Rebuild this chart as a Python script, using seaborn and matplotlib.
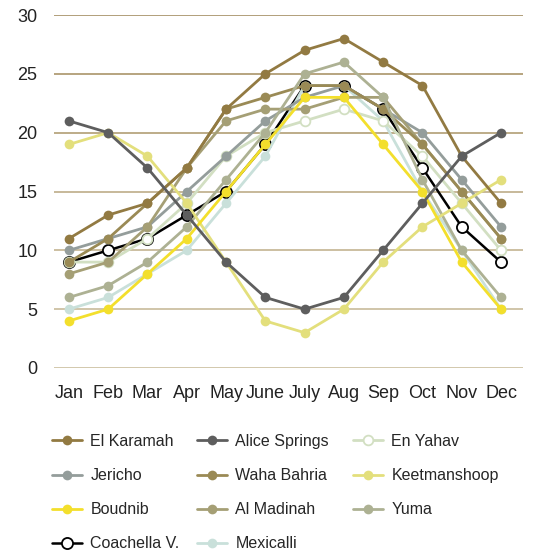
import matplotlib
matplotlib.use('Agg')
import matplotlib.pyplot as plt
import seaborn as sns

sns.set_style('white')
plt.rcParams['font.family'] = ['Liberation Sans', 'DejaVu Sans']

months = ['Jan', 'Feb', 'Mar', 'Apr', 'May', 'June', 'July', 'Aug', 'Sep', 'Oct', 'Nov', 'Dec']

el_karamah    = [11, 13, 14, 17, 22, 25, 27, 28, 26, 24, 18, 14]
alice_springs = [21, 20, 17, 13, 9, 6, 5, 6, 10, 14, 18, 20]
en_yahav      = [9, 9, 11, 14, 18, 20, 21, 22, 21, 18, 14, 10]
jericho       = [10, 11, 12, 15, 18, 21, 23, 24, 22, 20, 16, 12]
waha_bahria   = [9, 11, 14, 17, 22, 23, 24, 24, 22, 19, 15, 11]
keetmanshoop  = [19, 20, 18, 14, 9, 4, 3, 5, 9, 12, 14, 16]
boudnib       = [4, 5, 8, 11, 15, 19, 23, 23, 19, 15, 9, 5]
al_madinah    = [8, 9, 12, 17, 21, 22, 22, 23, 23, 19, 15, 11]
yuma          = [6, 7, 9, 12, 16, 20, 25, 26, 23, 16, 10, 6]
coachella     = [9, 10, 11, 13, 15, 19, 24, 24, 22, 17, 12, 9]
mexicalli     = [5, 6, 8, 10, 14, 18, 24, 24, 21, 15, 10, 5]

series_names = ['El Karamah', 'Alice Springs', 'En Yahav', 'Jericho', 'Waha Bahria',
                'Keetmanshoop', 'Boudnib', 'Al Madinah', 'Yuma', 'Coachella V.', 'Mexicalli']
series_values = [el_karamah, alice_springs, en_yahav, jericho, waha_bahria,
                 keetmanshoop, boudnib, al_madinah, yuma, coachella, mexicalli]
colors = {
    'El Karamah': '#927a42', 'Alice Springs': '#5e5e5e', 'En Yahav': '#d2dfc2',
    'Jericho': '#949d9b', 'Waha Bahria': '#9a8a55', 'Keetmanshoop': '#e3df7c',
    'Boudnib': '#f3df2c', 'Al Madinah': '#a59f75', 'Yuma': '#adb193',
    'Coachella V.': '#000000', 'Mexicalli': '#c9e0da',
}
zorders = {
    'Coachella V.': 2.0, 'Mexicalli': 2.1, 'En Yahav': 2.2, 'Jericho': 2.3,
    'Al Madinah': 2.4, 'Waha Bahria': 2.5, 'Yuma': 2.6, 'Keetmanshoop': 2.7,
    'Boudnib': 2.8, 'El Karamah': 2.9, 'Alice Springs': 3.0,
}

W, H = 535, 556
fig = plt.figure(figsize=(W / 100, H / 100), dpi=100)
ax = fig.add_axes([54 / W, 1 - 368 / H, (523 - 54) / W, (368 - 15) / H])

handles = {}
for name, vals in zip(series_names, series_values):
    c = colors[name]
    kw = dict(x=months, y=vals, ax=ax, color=c, marker='o', zorder=zorders[name])
    if name == 'Coachella V.':
        sns.lineplot(**kw, linewidth=1.8, markersize=8.0, markerfacecolor='white',
                     markeredgecolor='black', markeredgewidth=1.3)
    elif name == 'En Yahav':
        sns.lineplot(**kw, linewidth=2.0, markersize=7.0, markerfacecolor='white',
                     markeredgecolor=c, markeredgewidth=1.3)
    else:
        sns.lineplot(**kw, linewidth=2.0, markersize=7.0, markeredgewidth=0)
    line = ax.lines[-1]
    line.set_clip_on(False)
    handles[name] = line

ax.set_xlim(-0.38, 11.56)
ax.set_ylim(0, 30)
ax.set_yticks([0, 5, 10, 15, 20, 25, 30])
for s in ax.spines.values():
    s.set_visible(False)
ax.set_xlabel('')
ax.set_ylabel('')
ax.tick_params(axis='both', length=0, labelsize=13, colors='#222222')
ax.tick_params(axis='y', pad=12)
ax.tick_params(axis='x', pad=12)
ax.yaxis.grid(True)
ax.xaxis.grid(False)
grid_colors = ['#c6b996', '#c3b592', '#bfae88', '#b8a67e', '#ab9668', '#a38c5d', '#9c8556']
for gl, gc in zip(ax.get_ygridlines(), grid_colors):
    gl.set_color(gc)
    gl.set_linewidth(1.1)
    gl.set_zorder(0.5)

columns = [
    ['El Karamah', 'Jericho', 'Boudnib', 'Coachella V.'],
    ['Alice Springs', 'Waha Bahria', 'Al Madinah', 'Mexicalli'],
    ['En Yahav', 'Keetmanshoop', 'Yuma'],
]
col_x = [52, 197, 353]
for names_col, cx in zip(columns, col_x):
    fig.legend(handles=[handles[n] for n in names_col], labels=names_col,
               loc='upper left', bbox_to_anchor=(cx / W, 1 - 434 / H),
               frameon=False, borderpad=0, borderaxespad=0, fontsize=11.5,
               handlelength=1.9, handletextpad=0.5, labelspacing=1.2)

fig.savefig('out.png', dpi=100)
